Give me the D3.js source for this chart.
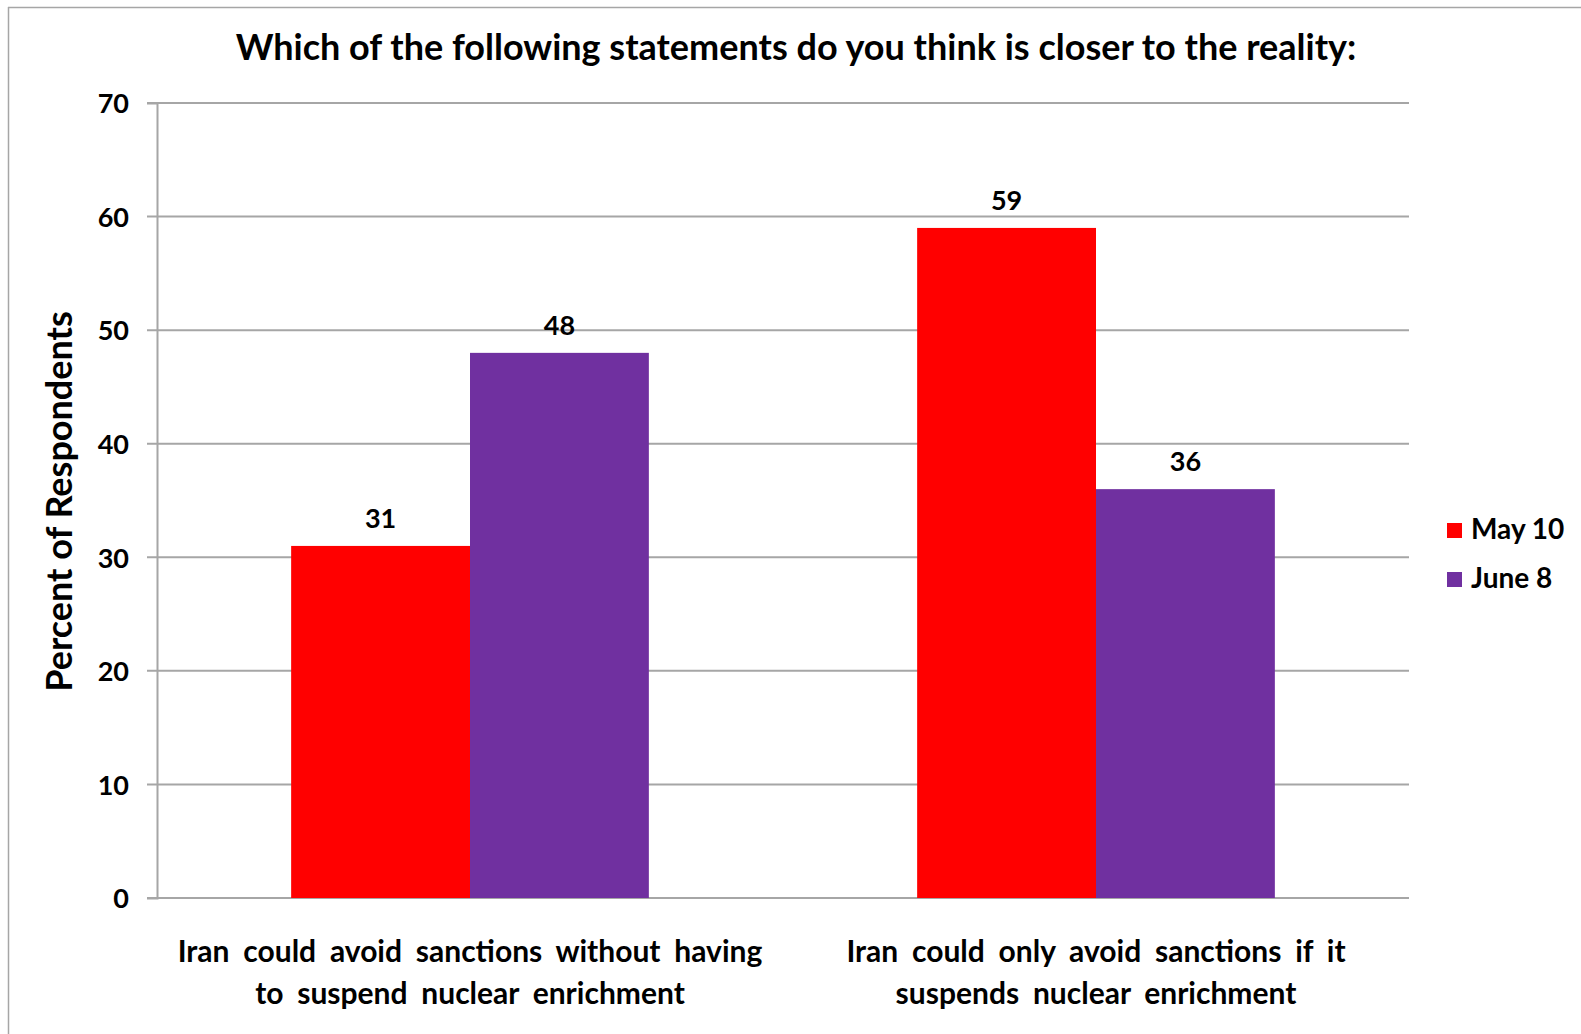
<!DOCTYPE html>
<html>
<head>
<meta charset="utf-8">
<script src="https://cdn.jsdelivr.net/npm/d3@7"></script>
<style>
  html, body { margin: 0; padding: 0; background: #fff; }
  svg { display: block; }
  text { font-family: Lato, "Open Sans", sans-serif; font-weight: bold; fill: #000; }
</style>
</head>
<body>
<svg id="chart" width="1581" height="1034"></svg>
<script>
const title = "Which of the following statements do you think is closer to the reality:";
const yAxisTitle = "Percent of Respondents";
const categories = [
  "Iran could avoid sanctions without having\nto suspend nuclear enrichment",
  "Iran could only avoid sanctions if it\nsuspends nuclear enrichment"
];
const series = ["May 10", "June 8"];
const mayValues = [31, 59];
const juneValues = [48, 36];
const yTicks = [0, 10, 20, 30, 40, 50, 60, 70];
const colors = ["#FF0000", "#7030A0"];

const svg = d3.select("#chart");
const W = 1581, H = 1034;
const margin = { left: 157, right: W - 1409, top: 103, bottom: H - 898 };

// frame
svg.append("line").attr("x1", 8).attr("x2", W).attr("y1", 7.5).attr("y2", 7.5)
  .attr("stroke", "#a6a6a6").attr("stroke-width", 1.5);
svg.append("line").attr("x1", 8.5).attr("x2", 8.5).attr("y1", 7).attr("y2", H)
  .attr("stroke", "#a6a6a6").attr("stroke-width", 1.5);

const x0 = d3.scaleBand().domain(categories).range([margin.left, W - margin.right]).padding(0);
const x1 = d3.scaleBand().domain(series).range([0, x0.bandwidth()]).paddingInner(0).paddingOuter(0.75);
const y = d3.scaleLinear().domain([0, 70]).range([H - margin.bottom, margin.top]);

// gridlines
const grid = svg.append("g");
grid.selectAll("line").data(yTicks).join("line")
  .attr("x1", margin.left - 10).attr("x2", W - margin.right)
  .attr("y1", d => y(d)).attr("y2", d => y(d))
  .attr("stroke", "#a6a6a6").attr("stroke-width", 2);

// bars
const data = categories.map((c, i) => ({ cat: c, vals: [mayValues[i], juneValues[i]] }));
const groups = svg.append("g").selectAll("g").data(data).join("g")
  .attr("transform", d => `translate(${x0(d.cat)},0)`);
groups.selectAll("rect").data(d => d.vals.map((v, j) => ({ s: series[j], v, j })))
  .join("rect")
  .attr("x", d => x1(d.s)).attr("width", x1.bandwidth())
  .attr("y", d => y(d.v)).attr("height", d => y(0) - y(d.v))
  .attr("fill", d => colors[d.j]);
groups.selectAll("text.val").data(d => d.vals.map((v, j) => ({ s: series[j], v, j })))
  .join("text").attr("class", "val")
  .attr("x", d => x1(d.s) + x1.bandwidth() / 2)
  .attr("y", d => y(d.v) - 18)
  .attr("text-anchor", "middle").attr("font-size", 27)
  .text(d => d.v);

// y axis
const yAxis = d3.axisLeft(y).tickValues(yTicks).tickSize(10).tickPadding(18);
const ya = svg.append("g").attr("transform", `translate(${margin.left},0)`).call(yAxis);
ya.select(".domain").attr("stroke", "#a6a6a6").attr("stroke-width", 2);
ya.selectAll(".tick line").remove();
ya.selectAll(".tick text").attr("font-size", 27).attr("fill", "#000")
  .style("font-family", "Lato, sans-serif").style("font-weight", "bold")
  .attr("dy", "0.36em");

// y axis title
svg.append("text")
  .attr("transform", `translate(72,${(y(0) + y(70)) / 2 + 1}) rotate(-90)`)
  .attr("text-anchor", "middle").attr("font-size", 36)
  .text(yAxisTitle);

// category labels
svg.append("g").selectAll("text").data(categories).join("text")
  .attr("x", d => x0(d) + x0.bandwidth() / 2)
  .attr("y", 962)
  .attr("text-anchor", "middle").attr("font-size", 30).attr("word-spacing", 6.5)
  .selectAll("tspan").data(d => d.split("\n")).join("tspan")
  .attr("x", function() { return this.parentNode.getAttribute("x"); })
  .attr("dy", (d, i) => i === 0 ? 0 : 42)
  .text(d => d);

// title
svg.append("text").attr("x", 796).attr("y", 60).attr("text-anchor", "middle")
  .attr("font-size", 36).text(title);

// legend
const legend = svg.append("g").selectAll("g").data(series).join("g")
  .attr("transform", (d, i) => `translate(1447,${523 + i * 49})`);
legend.append("rect").attr("width", 15).attr("height", 15).attr("fill", (d, i) => colors[i]);
legend.append("text").attr("x", 24).attr("y", 16).attr("font-size", 28).text(d => d);
</script>
</body>
</html>
